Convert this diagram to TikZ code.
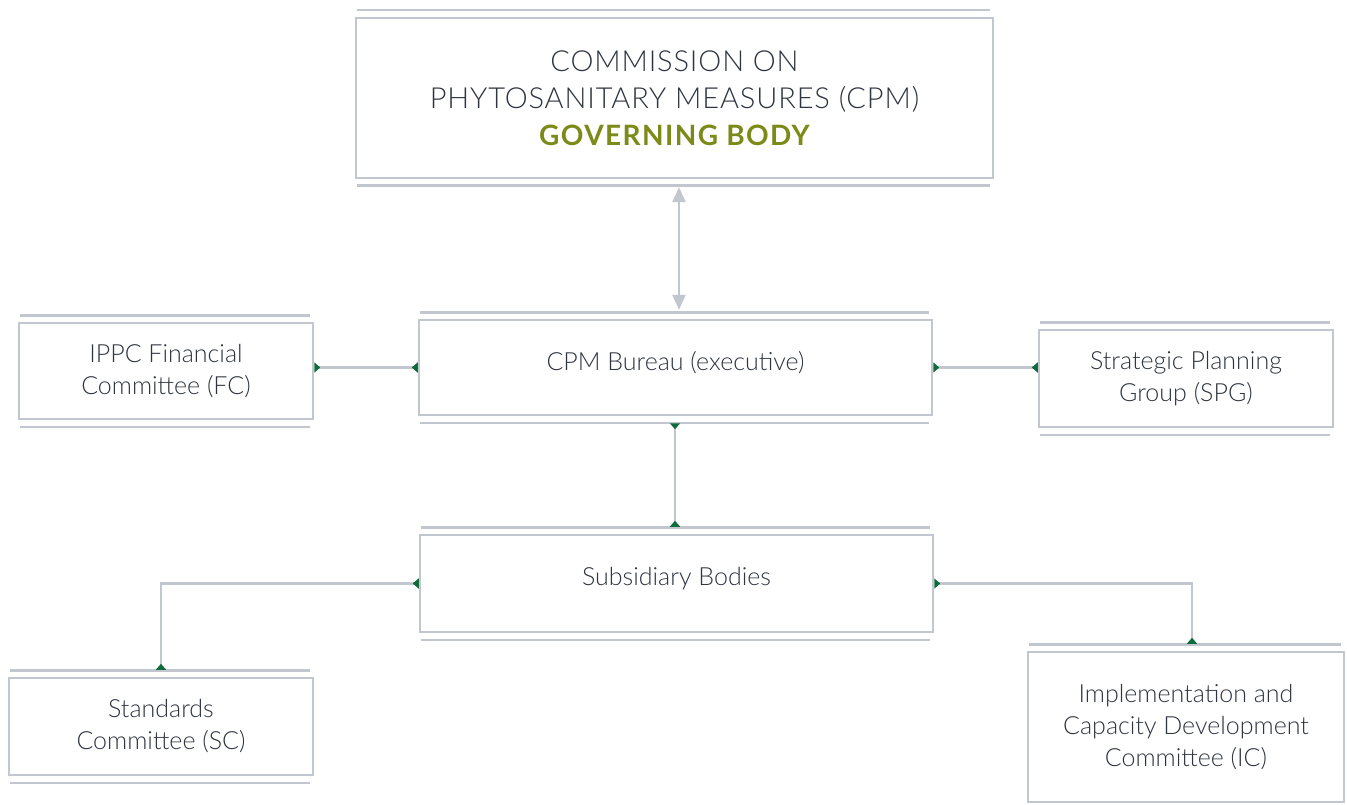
\documentclass[tikz,border=0pt]{standalone}
\usepackage{fontspec}
\usetikzlibrary{arrows.meta}
\IfFontExistsTF{Lato Light}{%
  \setmainfont{Lato Light}[BoldFont={Lato Bold}]
  \newfontfamily\titlefont{Lato Light}[LetterSpace=3]
}{%
  \setmainfont{Lato}
  \newfontfamily\titlefont{Lato}[LetterSpace=3]
}
\newfontfamily\govfont{Lato}[UprightFont={* Bold},LetterSpace=5]
\definecolor{linegray}{HTML}{C2C6CE}
\definecolor{tipgreen}{HTML}{0E6B3C}
\definecolor{textc}{HTML}{2E3440}
\definecolor{olive}{HTML}{7C8A19}
\begin{document}
\begin{tikzpicture}[x=1pt,y=-1pt,
  obox/.style={draw=linegray, line width=2.5pt, fill=white, inner sep=0pt, align=center, text=textc, font=\fontsize{25}{32}\selectfont},
  rule/.style={draw=linegray, line width=2.5pt},
  conn/.style={draw=linegray, line width=2.5pt, {Triangle[reversed,length=6pt,width=10pt,color=tipgreen]}-{Triangle[reversed,length=6pt,width=10pt,color=tipgreen]}},
  dbl/.style={draw=linegray, line width=2.5pt, {Triangle[length=15pt,width=13pt]}-{Triangle[length=15pt,width=13pt]}}]
\useasboundingbox (0,0) rectangle (1347,805);
\fill[white] (0,0) rectangle (1347,805);

\node[obox, minimum width=637pt, minimum height=160pt, font=\titlefont\fontsize{29}{37}\selectfont] (cpm) at (674.5,98)
  {\titlefont COMMISSION ON\\
   \titlefont PHYTOSANITARY MEASURES (CPM)\\
   \govfont\fontsize{28}{37}\selectfont\color{olive}GOVERNING BODY};
\node[obox, minimum width=294pt, minimum height=96pt] (fc) at (166,371) {IPPC Financial\\Committee (FC)};
\node[obox, minimum width=513pt, minimum height=95pt, text depth=14pt] (bur) at (675.5,367.5) {CPM Bureau (executive)};
\node[obox, minimum width=294pt, minimum height=97pt] (spg) at (1186,378.5) {Strategic Planning\\Group (SPG)};
\node[obox, minimum width=513pt, minimum height=97pt, text depth=14pt] (sub) at (676.5,583.5) {Subsidiary Bodies};
\node[obox, minimum width=304pt, minimum height=97pt] (sc) at (161,726.5) {Standards\\Committee (SC)};
\node[obox, minimum width=316pt, minimum height=150pt] (ic) at (1186,727) {Implementation and\\Capacity Development\\Committee (IC)};

% top and bottom rules
\foreach \n in {cpm,fc,bur,spg,sub,sc,ic}{
  \draw[rule] ([xshift=2pt,yshift=6.5pt]\n.north west) -- ([xshift=-4pt,yshift=6.5pt]\n.north east);
}
\foreach \n in {cpm,fc,bur,spg,sub,sc}{
  \draw[rule] ([xshift=2pt,yshift=-6.5pt]\n.south west) -- ([xshift=-4pt,yshift=-6.5pt]\n.south east);
}

% connectors
\draw[dbl] ([xshift=4.5pt,yshift=-8pt]cpm.south) -- ([xshift=3.5pt,yshift=9pt]bur.north);
\draw[conn] (bur.west -| fc.east) -- (bur.west);
\draw[conn] (bur.east) -- (bur.east -| spg.west);
\coordinate (b1) at ([xshift=-0.5pt,yshift=-7pt]bur.south);
\coordinate (s1) at ([yshift=7pt]sub.north);
\draw[conn] (b1) -- (b1 |- s1);
\draw[conn] (sub.west) -| ([yshift=7pt]sc.north);
\draw[conn] (sub.east) -| ([xshift=6pt,yshift=7pt]ic.north);
\end{tikzpicture}
\end{document}
